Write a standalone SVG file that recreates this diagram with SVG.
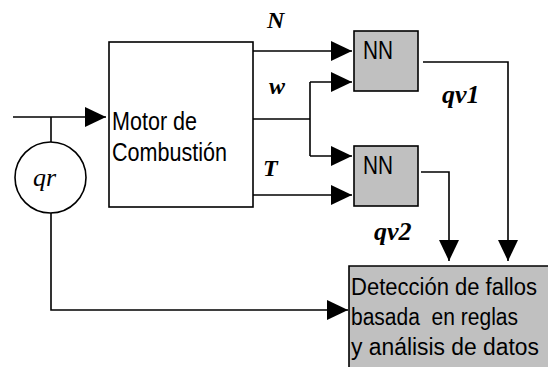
<svg xmlns="http://www.w3.org/2000/svg" width="548" height="367" viewBox="0 0 548 367">
<style>
.ln{fill:none;stroke:#000;stroke-width:1.6}
.bx{stroke:#000;stroke-width:1.6}
.sans{font-family:"Liberation Sans",Arial,sans-serif;font-size:26px;fill:#000;white-space:pre}
.det{font-family:"Liberation Sans",Arial,sans-serif;font-size:23px;fill:#000;white-space:pre}
.lbl{font-family:"Liberation Serif","Times New Roman",serif;font-size:24px;font-weight:bold;font-style:italic;fill:#000}
.lbq{font-family:"Liberation Serif","Times New Roman",serif;font-size:26px;font-weight:bold;font-style:italic;fill:#000}
.qr{font-family:"Liberation Serif","Times New Roman",serif;font-size:26px;font-style:italic;fill:#000}
</style>
<defs>
<marker id="ah" markerUnits="userSpaceOnUse" markerWidth="21" markerHeight="20" refX="21" refY="10" orient="auto">
<path d="M0,0 L21,10 L0,20 z" fill="#000"/>
</marker>
</defs>
<rect width="548" height="367" fill="#fff"/>
<g id="connectors">
<path class="ln" d="M13,117 H106" marker-end="url(#ah)"/>
<path class="ln" d="M51,117 V142"/>
<path class="ln" d="M51,213 V310 H348" marker-end="url(#ah)"/>
<path class="ln" d="M253,51 H352" marker-end="url(#ah)"/>
<path class="ln" d="M253,119 H310"/>
<path class="ln" d="M310,82 V156"/>
<path class="ln" d="M310,82 H352" marker-end="url(#ah)"/>
<path class="ln" d="M310,156 H352" marker-end="url(#ah)"/>
<path class="ln" d="M253,195 H352" marker-end="url(#ah)"/>
<path class="ln" d="M423,62 H508 V261" marker-end="url(#ah)"/>
<path class="ln" d="M421,172 H449 V261" marker-end="url(#ah)"/>
</g>
<g id="motor">
<rect class="bx" x="109" y="42" width="144" height="165" fill="#fff"/>
<text class="sans" x="112" y="129.5" textLength="85" lengthAdjust="spacingAndGlyphs">Motor de</text>
<text class="sans" x="112" y="160.5" textLength="115" lengthAdjust="spacingAndGlyphs">Combustión</text>
</g>
<g id="qr">
<circle class="bx" cx="50.5" cy="177.5" r="35.5" fill="#fff"/>
<text class="qr" x="33" y="186">qr</text>
</g>
<g id="nn1">
<rect class="bx" x="354" y="31" width="64" height="60" fill="#c0c0c0"/>
<text class="sans" x="363" y="58.5" textLength="30" lengthAdjust="spacingAndGlyphs">NN</text>
</g>
<g id="nn2">
<rect class="bx" x="354" y="146" width="64" height="60" fill="#c0c0c0"/>
<text class="sans" x="363" y="173.5" textLength="30" lengthAdjust="spacingAndGlyphs">NN</text>
</g>
<g id="deteccion">
<rect x="349" y="266" width="199" height="101" fill="#c0c0c0"/>
<path class="ln" d="M349,367 V266 H548"/>
<text class="det" x="351" y="295" textLength="186" lengthAdjust="spacingAndGlyphs">Detección de fallos</text>
<text class="det" x="351" y="325" textLength="167" lengthAdjust="spacingAndGlyphs" xml:space="preserve">basada  en reglas</text>
<text class="det" x="351" y="355" textLength="188" lengthAdjust="spacingAndGlyphs">y análisis de datos</text>
</g>
<g id="labels">
<text class="lbl" x="267" y="28">N</text>
<text class="lbl" x="269" y="94">w</text>
<text class="lbl" x="263" y="176">T</text>
<text class="lbq" x="442" y="103">qv1</text>
<text class="lbq" x="374" y="240">qv2</text>
</g>
</svg>
